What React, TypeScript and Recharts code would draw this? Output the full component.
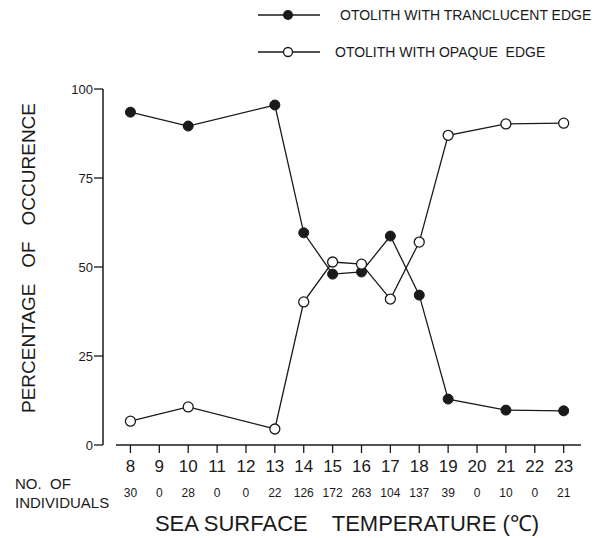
import React from "react";
import { LineChart, Line, XAxis, YAxis, ReferenceLine } from "recharts";

// sea surface temperature (°C) for each sampled month group
const temps = [8, 10, 13, 14, 15, 16, 17, 18, 19, 21, 23];
// % of otoliths with translucent edge
const translucent = [93.5, 89.6, 95.5, 59.6, 48.0, 48.6, 58.7, 42.1, 12.9, 9.8, 9.6];
// % of otoliths with opaque edge
const opaque = [6.7, 10.7, 4.5, 40.2, 51.4, 50.8, 41.0, 57.0, 87.0, 90.2, 90.4];

// every integer temperature on the axis and the sample size under it
const tickTemps = [8, 9, 10, 11, 12, 13, 14, 15, 16, 17, 18, 19, 20, 21, 22, 23];
const individuals = [30, 0, 28, 0, 0, 22, 126, 172, 263, 104, 137, 39, 0, 10, 0, 21];

const yTicks = [0, 25, 50, 75, 100];

const seriesNames = ["OTOLITH WITH TRANCLUCENT EDGE", "OTOLITH WITH OPAQUE  EDGE"];

const data = temps.map((t, i) => ({ temp: t, translucent: translucent[i], opaque: opaque[i] }));

const FONT = "'Liberation Sans', Arial, Helvetica, sans-serif";
const INK = "#1a1a1a";

const TempTick = (props: any) => {
  const { x, y, payload } = props;
  const idx = tickTemps.indexOf(payload.value);
  return (
    <g>
      <text x={x} y={y + 17} textAnchor="middle" fontSize={17} fill={INK} fontFamily={FONT}>
        {payload.value}
      </text>
      <text x={x} y={y + 42} textAnchor="middle" fontSize={12} fill={INK} fontFamily={FONT}>
        {individuals[idx]}
      </text>
    </g>
  );
};

const FilledDot = (props: any) => {
  const { cx, cy } = props;
  if (cx == null || cy == null) return null;
  return <circle cx={cx} cy={cy} r={5} fill={INK} stroke={INK} strokeWidth={1} />;
};

const OpenDot = (props: any) => {
  const { cx, cy } = props;
  if (cx == null || cy == null) return null;
  return <circle cx={cx} cy={cy} r={5} fill="#fff" stroke={INK} strokeWidth={1.3} />;
};

export default function App() {
  return (
    <div style={{ position: "absolute", left: 0, top: 0, width: 599, height: 538, background: "#fff" }}>
      <LineChart
        width={599}
        height={538}
        data={data}
        margin={{ top: 89, right: 18, bottom: 0, left: 0 }}
        style={{ fontFamily: FONT }}
      >
        <XAxis
          type="number"
          dataKey="temp"
          domain={[7.05, 23.6]}
          ticks={tickTemps}
          allowDataOverflow
          height={93}
          axisLine={false}
          tickLine={{ stroke: INK, strokeWidth: 1.3 }}
          tickSize={8}
          tickMargin={2}
          tick={<TempTick />}
        />
        <YAxis
          type="number"
          domain={[0, 100]}
          ticks={yTicks}
          width={103}
          axisLine={{ stroke: INK, strokeWidth: 1.5 }}
          tickLine={{ stroke: INK, strokeWidth: 1.3 }}
          tickSize={9}
          tickMargin={1}
          tick={{ fontSize: 13, fill: INK, fontFamily: FONT }}
        />
        <ReferenceLine
          segment={[{ x: 7.5, y: 0 }, { x: 23.6, y: 0 }]}
          stroke={INK}
          strokeWidth={1.5}
        />
        <Line
          dataKey="translucent"
          name={seriesNames[0]}
          stroke={INK}
          strokeWidth={1.3}
          dot={<FilledDot />}
          activeDot={false}
          isAnimationActive={false}
        />
        <Line
          dataKey="opaque"
          name={seriesNames[1]}
          stroke={INK}
          strokeWidth={1.3}
          dot={<OpenDot />}
          activeDot={false}
          isAnimationActive={false}
        />
      </LineChart>

      <svg
        width={599}
        height={538}
        style={{ position: "absolute", left: 0, top: 0, pointerEvents: "none" }}
        fontFamily={FONT}
      >
        {/* legend */}
        <line x1={258} y1={15} x2={320} y2={15} stroke={INK} strokeWidth={1.3} />
        <circle cx={288} cy={15} r={5} fill={INK} />
        <text x={340} y={20} fontSize={14} fill={INK} style={{ whiteSpace: "pre" }}>
          {seriesNames[0]}
        </text>
        <line x1={258} y1={52} x2={320} y2={52} stroke={INK} strokeWidth={1.3} />
        <circle cx={288} cy={52} r={4.5} fill="#fff" stroke={INK} strokeWidth={1.3} />
        <text x={335} y={57} fontSize={14} fill={INK} style={{ whiteSpace: "pre" }}>
          {seriesNames[1]}
        </text>

        {/* y-axis title */}
        <text
          x={0}
          y={0}
          transform="translate(35 258) rotate(-90)"
          textAnchor="middle"
          fontSize={19}
          fill={INK}
          style={{ whiteSpace: "pre" }}
        >
          {"PERCENTAGE   OF   OCCURENCE"}
        </text>

        {/* sample size row caption */}
        <text x={15} y={489} fontSize={15} fill={INK} style={{ whiteSpace: "pre" }}>
          {"NO.  OF"}
        </text>
        <text x={15} y={508} fontSize={15} fill={INK}>
          INDIVIDUALS
        </text>

        {/* x-axis title */}
        <text x={347} y={531} textAnchor="middle" fontSize={22} fill={INK} style={{ whiteSpace: "pre" }}>
          {"SEA SURFACE    TEMPERATURE (\u2103)"}
        </text>
      </svg>
    </div>
  );
}
